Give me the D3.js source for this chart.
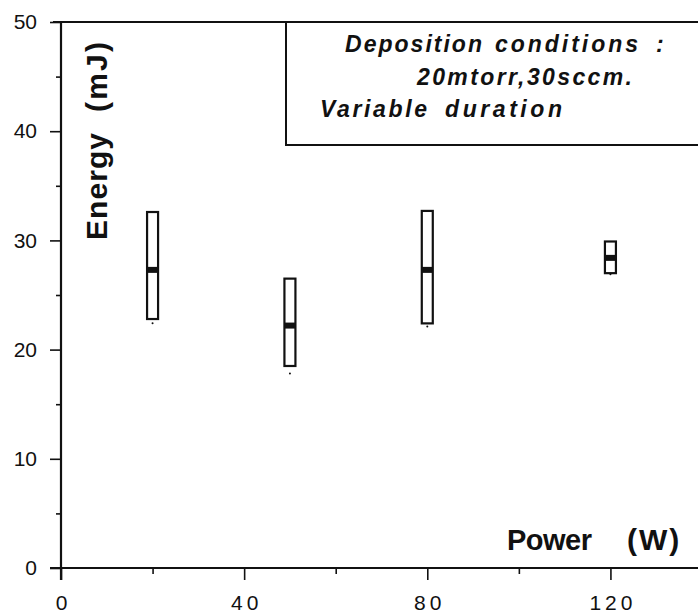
<!DOCTYPE html>
<html lang="en">
<head>
  <meta charset="utf-8">
  <title>Energy vs Power</title>
  <script src="https://cdn.jsdelivr.net/npm/d3@7"></script>
  <style>
    body { margin: 0; background: #fff; }
    svg { display: block; font-family: "Liberation Sans", Arial, sans-serif; }
  </style>
</head>
<body>
<svg id="chart" width="698" height="614"></svg>
<script>

// data
var power   = [20, 50, 80, 120];          // W
var eMax    = [32.6, 26.5, 32.7, 29.9];   // top of box, mJ
var eMin    = [22.8, 18.5, 22.4, 27.0];   // bottom of box
var eMean   = [27.3, 22.2, 27.3, 28.4];   // filled mark
var eLow    = [22.5, 17.9, 22.2, 27.0];   // little dot under the box

var xMajor = [0, 40, 80, 120],
    xMinor = [20, 60, 100, 140],
    yMajor = [0, 10, 20, 30, 40, 50],
    yMinor = [5, 15, 25, 35, 45];

// annotation words, one entry per word: text, x, baseline, width
var noteWords = [
  ["Deposition", 345, 52, 137],
  ["conditions", 495, 52, 143],
  [":", 656, 52, 5],
  ["20mtorr,30sccm.", 417, 85, 215],
  ["Variable", 320, 117, 107],
  ["duration", 445, 117, 117]
];

var svg = d3.select("#chart");

var xScale = d3.scaleLinear().domain([0, 140]).range([61, 702]);
var yScale = d3.scaleLinear().domain([0, 50]).range([568, 22]);

/////////////////////
// axes
var yAxis = d3.axisLeft(yScale).tickValues(yMajor).tickSize(11).tickPadding(13);
var yAxisMinor = d3.axisLeft(yScale).tickValues(yMinor).tickSize(5).tickFormat("");
var xAxis = d3.axisBottom(xScale).tickValues(xMajor).tickSize(12).tickPadding(15);
var xAxisMinor = d3.axisBottom(xScale).tickValues(xMinor).tickSize(6).tickFormat("");

function styleAxis(g) {
  g.select(".domain").remove();
  g.selectAll(".tick line").attr("stroke", "#111").attr("stroke-width", 1.6);
  g.selectAll(".tick text").attr("fill", "#111").style("font-size", "21px");
}

svg.append("g").attr("transform", "translate(61,0)").call(yAxis).call(styleAxis);
svg.append("g").attr("transform", "translate(61,0)").call(yAxisMinor).call(styleAxis);
svg.append("g").attr("transform", "translate(0,568)").call(xAxis).call(styleAxis)
  .selectAll(".tick text").style("letter-spacing", "4px").attr("dx", 2);
svg.append("g").attr("transform", "translate(0,568)").call(xAxisMinor).call(styleAxis);

// frame lines: left axis, bottom axis, top line
svg.append("line").attr("x1", 61).attr("x2", 61).attr("y1", yScale(50)).attr("y2", 580)
  .attr("stroke", "#111").attr("stroke-width", 2.2);
svg.append("line").attr("x1", 50).attr("x2", 698).attr("y1", yScale(0)).attr("y2", yScale(0))
  .attr("stroke", "#111").attr("stroke-width", 2.2);
svg.append("line").attr("x1", 53).attr("x2", 698).attr("y1", yScale(50)).attr("y2", yScale(50))
  .attr("stroke", "#111").attr("stroke-width", 2);

/////////////////////
// annotation box
svg.append("rect")
  .attr("x", 286).attr("y", yScale(50))
  .attr("width", 430).attr("height", 145 - yScale(50))
  .attr("fill", "#fff").attr("stroke", "#111").attr("stroke-width", 2);

svg.selectAll("text.note")
  .data(noteWords)
  .enter().append("text")
    .attr("class", "note")
    .attr("x", function(d) { return d[1]; })
    .attr("y", function(d) { return d[2]; })
    .attr("textLength", function(d) { return d[3]; })
    .attr("lengthAdjust", "spacing")
    .style("font-size", "23px")
    .style("font-style", "italic")
    .style("font-weight", "bold")
    .attr("fill", "#111")
    .text(function(d) { return d[0]; });

/////////////////////
// axis titles
var yTitle = svg.append("g").attr("transform", "translate(107,0) rotate(-90)");
yTitle.append("text").attr("x", -240).attr("y", 0)
  .attr("textLength", 107).attr("lengthAdjust", "spacing")
  .style("font-size", "30px").style("font-weight", "bold").attr("fill", "#111")
  .text("Energy");
yTitle.append("text").attr("x", -112).attr("y", 0)
  .attr("textLength", 70).attr("lengthAdjust", "spacing")
  .style("font-size", "30px").style("font-weight", "bold").attr("fill", "#111")
  .text("(mJ)");

svg.append("text").attr("x", 507).attr("y", 550)
  .attr("textLength", 85).attr("lengthAdjust", "spacing")
  .style("font-size", "29px").style("font-weight", "bold").attr("fill", "#111")
  .text("Power");
svg.append("text").attr("x", 627).attr("y", 550)
  .style("letter-spacing", "2px")
  .style("font-size", "30px").style("font-weight", "bold").attr("fill", "#111")
  .text("(W)");

/////////////////////
// boxes
var boxW = 11;
var rows = power.map(function(p, i) {
  return { p: p, hi: eMax[i], lo: eMin[i], mean: eMean[i], low: eLow[i] };
});

var boxes = svg.selectAll("g.box").data(rows).enter().append("g").attr("class", "box");

boxes.append("rect")
  .attr("x", function(d) { return xScale(d.p) - boxW / 2; })
  .attr("y", function(d) { return yScale(d.hi); })
  .attr("width", boxW)
  .attr("height", function(d) { return yScale(d.lo) - yScale(d.hi); })
  .attr("fill", "#fff").attr("stroke", "#111").attr("stroke-width", 2.2);

boxes.append("rect")
  .attr("x", function(d) { return xScale(d.p) - boxW / 2; })
  .attr("y", function(d) { return yScale(d.mean) - 3; })
  .attr("width", boxW).attr("height", 6)
  .attr("fill", "#111");

boxes.append("circle")
  .attr("cx", function(d) { return xScale(d.p); })
  .attr("cy", function(d) { return yScale(d.low) + 1; })
  .attr("r", 1)
  .attr("fill", "#111");

</script>
</body>
</html>
